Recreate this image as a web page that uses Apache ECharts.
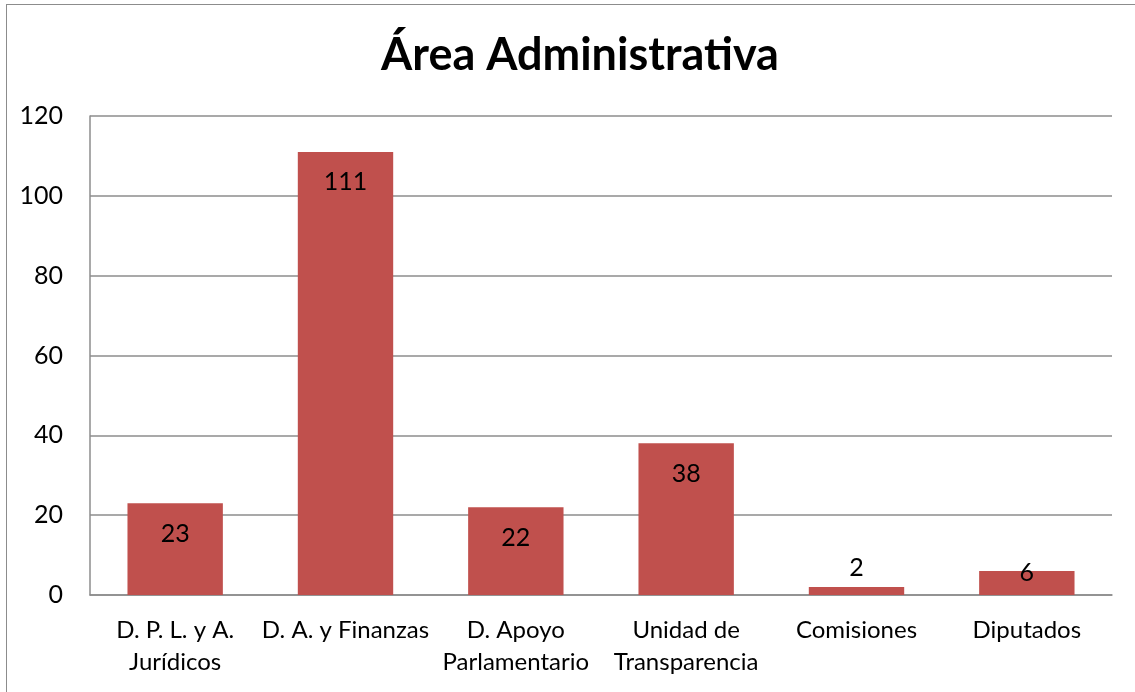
<!DOCTYPE html>
<html>
<head>
<meta charset="utf-8">
<script src="https://cdn.jsdelivr.net/npm/echarts@6/dist/echarts.min.js"></script>
<style>
html,body{margin:0;padding:0;background:#fff;overflow:hidden;width:1135px;height:692px;}
#frame{position:absolute;left:6px;top:4px;width:1129px;height:688px;border-left:1.5px solid #8c8c8c;border-top:1.5px solid #8c8c8c;box-sizing:border-box;}
#chart{position:absolute;left:0;top:0;width:1135px;height:692px;}
</style>
</head>
<body>
<div id="frame"></div>
<div id="chart"></div>
<script>
const titleText = 'Área Administrativa';
const categories = ['D. P. L. y A.\nJurídicos', 'D. A. y Finanzas', 'D. Apoyo\nParlamentario', 'Unidad de\nTransparencia', 'Comisiones', 'Diputados'];
const values = [23, 111, 22, 38, 2, 6];
const yTicks = [0, 20, 40, 60, 80, 100, 120];

const FONT = 'Lato, "Open Sans", sans-serif';
// label placement per bar (styling only)
function labelFor(v) {
  if (v < 4) return { position: 'top', distance: 7 };
  if (v < 10) return { position: 'top', distance: -14 };
  return { position: 'insideTop', distance: 18 };
}

const chart = echarts.init(document.getElementById('chart'), null, { renderer: 'canvas' });
chart.setOption({
  animation: false,
  backgroundColor: 'transparent',
  title: {
    text: titleText,
    left: 575, top: 28, textAlign: 'center',
    textStyle: { fontFamily: FONT, fontWeight: 'bold', fontSize: 45, color: '#000' }
  },
  grid: { left: 90, right: 23, top: 116, bottom: 97, containLabel: false },
  xAxis: {
    type: 'category',
    data: categories,
    axisLine: { lineStyle: { color: '#8c8c8c', width: 1.5 } },
    axisTick: { show: false },
    axisLabel: { interval: 0, margin: 19, color: '#000', fontFamily: FONT, fontSize: 24, lineHeight: 32 }
  },
  yAxis: {
    type: 'value',
    min: yTicks[0], max: yTicks[yTicks.length - 1], interval: 20,
    axisLine: { show: true, lineStyle: { color: '#8c8c8c', width: 1.5 } },
    axisTick: { show: false },
    splitLine: { lineStyle: { color: '#8c8c8c', width: 1.5 } },
    axisLabel: { margin: 27, color: '#000', fontFamily: FONT, fontSize: 25 }
  },
  series: [{
    type: 'bar',
    barCategoryGap: '44%',
    itemStyle: { color: '#C0504D' },
    data: values.map(v => ({
      value: v,
      label: Object.assign({ show: true, color: '#000', fontFamily: FONT, fontSize: 25 }, labelFor(v))
    }))
  }]
});
</script>
</body>
</html>
